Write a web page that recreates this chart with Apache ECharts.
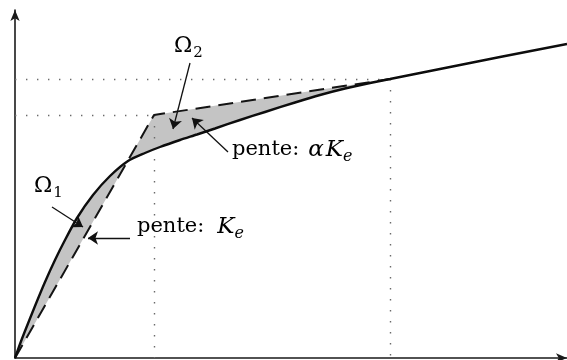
<!DOCTYPE html>
<html>
<head>
<meta charset="utf-8">
<script src="https://cdn.jsdelivr.net/npm/echarts@6/dist/echarts.min.js"></script>
<style>
  html, body { margin: 0; padding: 0; background: #fff; }
  #chart { width: 567px; height: 360px; }
</style>
</head>
<body>
<div id="chart"></div>
<script>
// Nonlinear response curve (abscissa / ordinate in arbitrary units)
const curveX = [0, 5, 10, 20, 30, 40, 50, 62, 78, 95, 113, 130, 145, 165, 182, 200, 225, 250, 280, 305, 330, 355, 375, 425, 485, 552];
const curveY = [0, 14, 27, 52, 76, 98, 118, 140, 163, 182, 197, 205, 211, 218, 223.5, 229.5, 238, 246, 255.5, 263, 269.5, 275, 279, 289, 301, 314];

// Bilinear approximation: origin, yield point, point where it rejoins the curve
const bilinX = [0, 139, 375];
const bilinY = [0, 243, 279];

// Axis extents
const xMax = 552;
const yMax = 348;

const curve = curveX.map((x, i) => [x, curveY[i]]);
const bilin = bilinX.map((x, i) => [x, bilinY[i]]);

// Area enclosed between the bilinear path and the curve (both lobes Ω1 and Ω2)
const curveUpToEnd = curve.filter(p => p[0] <= bilinX[2]);
const regionPts = bilin.concat(curveUpToEnd.slice().reverse());

// Dotted reference lines from the yield point and the end point to both axes
const guides = [];
[1, 2].forEach(i => {
  guides.push({ coords: [[0, bilinY[i]], [bilinX[i], bilinY[i]]] });
  guides.push({ coords: [[bilinX[i], bilinY[i]], [bilinX[i], 0]] });
});

// Annotation arrows (tail -> head)
const arrows = [
  { coords: [[175, 295], [158, 229]] },   // Ω2
  { coords: [[213, 206], [177, 240]] },   // pente αKe
  { coords: [[37, 151], [68, 131]] },     // Ω1
  { coords: [[115, 120], [73, 120]] }     // pente Ke
];

// Annotation texts
const notes = [
  { at: [159, 312], text: '{om|Ω}{sub|2}' },
  { at: [19, 172], text: '{om|Ω}{sub|1}' },
  { at: [217, 208], text: '{r|pente:}{ga|α}{it|K}{sub|e}' },
  { at: [122, 131], text: '{r|pente:}{gk|K}{sub|e}' }
];

const SERIF = '"DejaVu Serif", "Liberation Serif", serif';
const INK = '#151515';
const rich = {
  r:   { fontFamily: SERIF, fontSize: 21, lineHeight: 22, color: INK },
  ga:  { fontFamily: SERIF, fontSize: 23, lineHeight: 22, fontStyle: 'italic', color: INK, padding: [0, 0, 0, 9] },
  it:  { fontFamily: SERIF, fontSize: 23, lineHeight: 22, fontStyle: 'italic', color: INK, padding: [0, 0, 0, 2] },
  gk:  { fontFamily: SERIF, fontSize: 23, lineHeight: 22, fontStyle: 'italic', color: INK, padding: [0, 0, 0, 13] },
  om:  { fontFamily: SERIF, fontSize: 22, lineHeight: 22, color: INK },
  sub: { fontFamily: SERIF, fontSize: 16, lineHeight: 16, fontStyle: 'italic', color: INK, padding: [13, 0, 0, 0] }
};
const richUpright = Object.assign({}, rich, {
  sub: Object.assign({}, rich.sub, { fontStyle: 'normal', fontSize: 15, lineHeight: 15, padding: [14, 0, 0, 1] })
});

const chart = echarts.init(document.getElementById('chart'), null, { renderer: 'canvas' });

chart.setOption({
  animation: false,
  backgroundColor: '#ffffff',
  grid: { left: 15, right: 0, top: 10, bottom: 2, containLabel: false },
  xAxis: {
    type: 'value', min: 0, max: xMax,
    axisLine: { show: true, lineStyle: { color: '#1a1a1a', width: 1.6 }, symbol: ['none', 'arrow'], symbolSize: [7, 11] },
    axisTick: { show: false }, axisLabel: { show: false }, splitLine: { show: false }
  },
  yAxis: {
    type: 'value', min: 0, max: yMax,
    axisLine: { show: true, lineStyle: { color: '#1a1a1a', width: 1.6 }, symbol: ['none', 'arrow'], symbolSize: [7, 11] },
    axisTick: { show: false }, axisLabel: { show: false }, splitLine: { show: false }
  },
  series: [
    {
      type: 'custom',
      coordinateSystem: 'cartesian2d',
      silent: true,
      z: 1,
      data: [[0, 0]],
      renderItem: (params, api) => ({
        type: 'polygon',
        shape: { points: regionPts.map(p => api.coord(p)) },
        style: { fill: '#c4c4c4', stroke: null }
      })
    },
    {
      type: 'lines',
      coordinateSystem: 'cartesian2d',
      silent: true,
      z: 2,
      data: guides,
      symbol: ['none', 'none'],
      lineStyle: { color: '#6a6a6a', width: 1.4, type: [1.4, 9.6], opacity: 1 }
    },
    {
      type: 'line',
      data: bilin,
      showSymbol: false,
      silent: true,
      z: 3,
      lineStyle: { color: '#141414', width: 2, type: [15, 8] }
    },
    {
      type: 'line',
      data: curve,
      showSymbol: false,
      smooth: 0.25,
      silent: true,
      z: 4,
      lineStyle: { color: '#0d0d0d', width: 2.4 }
    },
    {
      type: 'lines',
      coordinateSystem: 'cartesian2d',
      silent: true,
      z: 5,
      data: arrows,
      symbol: ['none', 'arrow'],
      symbolSize: [7, 10],
      lineStyle: { color: '#111', width: 1.3, opacity: 1 }
    },
    {
      type: 'custom',
      coordinateSystem: 'cartesian2d',
      silent: true,
      z: 6,
      data: notes.map(n => n.at),
      renderItem: (params, api) => {
        const n = notes[params.dataIndex];
        const p = api.coord(n.at);
        return {
          type: 'text',
          x: p[0], y: p[1],
          style: {
            text: n.text,
            rich: n.text.indexOf('{om|') === 0 ? richUpright : rich,
            align: 'left',
            verticalAlign: 'middle'
          }
        };
      }
    }
  ]
});
</script>
</body>
</html>
